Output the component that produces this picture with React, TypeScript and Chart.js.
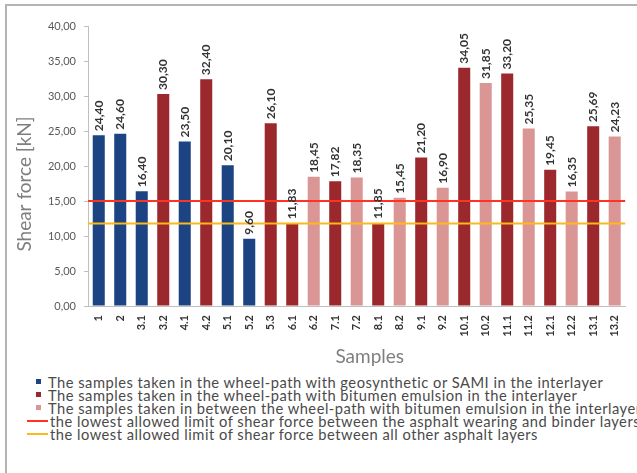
import React, { useEffect, useRef } from 'react';
import { Chart, registerables } from 'chart.js';

Chart.register(...registerables);

// ---- data ----
const categories = ['1', '2', '3.1', '3.2', '4.1', '4.2', '5.1', '5.2', '5.3', '6.1', '6.2', '7.1', '7.2', '8.1', '8.2', '9.1', '9.2', '10.1', '10.2', '11.1', '11.2', '12.1', '12.2', '13.1', '13.2'];
const shearForce = [24.4, 24.6, 16.4, 30.3, 23.5, 32.4, 20.1, 9.6, 26.1, 11.83, 18.45, 17.82, 18.35, 11.85, 15.45, 21.2, 16.9, 34.05, 31.85, 33.2, 25.35, 19.45, 16.35, 25.69, 24.23];
const sampleGroup = [0, 0, 0, 1, 0, 1, 0, 0, 1, 1, 2, 1, 2, 1, 2, 1, 2, 1, 2, 1, 2, 1, 2, 1, 2];
const groupLabels = [
  'The samples taken in the wheel-path with geosynthetic or SAMI in the interlayer',
  'The samples taken in the wheel-path with bitumen emulsion in the interlayer',
  'The samples taken in between the wheel-path with bitumen emulsion in the interlayer',
];
const groupColors = ['#1C4482', '#9B282D', '#DA9694'];
const limitLabels = [
  'the lowest allowed limit of shear force between the asphalt wearing and binder layers',
  'the lowest allowed limit of shear force between all other asphalt layers',
];
const limitValues = [15, 11.8];
const limitColors = ['#FF3322', '#FFB81C'];
const yMin = 0;
const yMax = 40;
const yStep = 5;
const xTitle = 'Samples';
const yTitle = 'Shear force [kN]';

const FONT = 'Lato, "Open Sans", sans-serif';
const fmt = (v: number) => v.toFixed(2).replace('.', ',');

const valueLabels = {
  id: 'valueLabels',
  afterDatasetsDraw(chart: any) {
    const ctx = chart.ctx;
    ctx.save();
    ctx.font = `bold 12px ${FONT}`;
    ctx.fillStyle = '#333333';
    ctx.textAlign = 'left';
    ctx.textBaseline = 'middle';
    chart.data.datasets.forEach((ds: any, di: number) => {
      if (ds.type !== 'bar') return;
      const meta = chart.getDatasetMeta(di);
      meta.data.forEach((el: any, i: number) => {
        const v = ds.data[i];
        if (v === null || v === undefined) return;
        ctx.save();
        ctx.translate(el.x, el.y - 4);
        ctx.rotate(-Math.PI / 2);
        ctx.fillText(fmt(v), 0, 0);
        ctx.restore();
      });
    });
    ctx.restore();
  },
};

const axisTitles = {
  id: 'axisTitles',
  afterDraw(chart: any) {
    const { ctx, chartArea } = chart;
    ctx.save();
    ctx.font = `19px ${FONT}`;
    ctx.fillStyle = '#7F7F7F';
    ctx.textAlign = 'center';
    ctx.textBaseline = 'middle';
    const cx = (chartArea.left + chartArea.right) / 2;
    const cy = (chartArea.top + chartArea.bottom) / 2;
    ctx.fillText(xTitle, cx + 13, chartArea.bottom + 51);
    ctx.translate(25, cy + 18);
    ctx.rotate(-Math.PI / 2);
    ctx.fillText(yTitle, 0, 0);
    ctx.restore();
  },
};

export default function App() {
  const ref = useRef<HTMLCanvasElement | null>(null);

  useEffect(() => {
    if (!ref.current) return;
    const barSets = groupLabels.map((label, g) => ({
      type: 'bar' as const,
      label,
      data: shearForce.map((v, i) => (sampleGroup[i] === g ? v : null)),
      backgroundColor: groupColors[g],
      grouped: false,
      barPercentage: 0.56,
      categoryPercentage: 1,
      xAxisID: 'x',
      order: 2,
    }));
    const lineSets = limitLabels.map((label, k) => ({
      type: 'line' as const,
      label,
      data: [
        { x: 0, y: limitValues[k] },
        { x: 1, y: limitValues[k] },
      ],
      borderColor: limitColors[k],
      backgroundColor: limitColors[k],
      borderWidth: 2,
      pointRadius: 0,
      xAxisID: 'x2',
      order: 1,
    }));
    const chart = new Chart(ref.current, {
      type: 'bar',
      data: { labels: categories, datasets: [...barSets, ...lineSets] as any },
      options: {
        responsive: false,
        animation: false,
        devicePixelRatio: 1,
        layout: { padding: { top: 26, right: 5, left: 0, bottom: 0 } },
        plugins: { legend: { display: false }, tooltip: { enabled: false } },
        scales: {
          x: {
            type: 'category',
            offset: true,
            grid: { display: false, drawTicks: false },
            border: { color: '#BFBFBF', width: 1 },
            ticks: {
              autoSkip: false,
              minRotation: 90,
              maxRotation: 90,
              padding: 9,
              color: '#333333',
              font: { family: FONT, size: 11, weight: 'bold' },
            },
            afterFit: (s: any) => {
              s.height = 64;
            },
          },
          x2: { type: 'linear', min: 0, max: 1, display: false, offset: false },
          y: {
            min: yMin,
            max: yMax,
            ticks: {
              stepSize: yStep,
              padding: 8,
              color: '#595959',
              font: { family: FONT, size: 11 },
              callback: (v: any) => fmt(Number(v)),
            },
            grid: { drawOnChartArea: false, drawTicks: true, tickLength: 4, color: '#BFBFBF' },
            border: { color: '#BFBFBF', width: 1 },
            afterFit: (s: any) => {
              s.width = 88;
            },
          },
        },
      } as any,
      plugins: [valueLabels, axisTitles],
    });
    return () => chart.destroy();
  }, []);

  const rowH = 13.1;
  const legendTop = 375;
  const items = [
    ...groupLabels.map((t, g) => ({ t, c: groupColors[g], kind: 'box' })),
    ...limitLabels.map((t, k) => ({ t, c: limitColors[k], kind: 'line' })),
  ];

  return (
    <div style={{ position: 'absolute', left: 0, top: 0, width: 637, height: 473, overflow: 'hidden', background: '#fff', fontFamily: FONT }}>
      <div style={{ position: 'absolute', left: 5, top: 4, width: 700, height: 600, borderTop: '2px solid #B4B4B4', borderLeft: '2px solid #B4B4B4' }} />
      <canvas ref={ref} width={637} height={370} style={{ position: 'absolute', left: 0, top: 0, width: 637, height: 370 }} />
      {items.map((it, i) => {
        const cy = legendTop + rowH * i + 6.5;
        return (
          <React.Fragment key={i}>
            {it.kind === 'box' ? (
              <div style={{ position: 'absolute', left: 36, top: cy - 2.5, width: 5, height: 5, background: it.c }} />
            ) : (
              <div style={{ position: 'absolute', left: 27, top: cy - 1, width: 21, height: 2, background: it.c }} />
            )}
            <div
              style={{
                position: 'absolute',
                left: it.kind === 'box' ? 48 : 50,
                top: cy - 9,
                height: 18,
                lineHeight: '18px',
                fontSize: 14.7,
                letterSpacing: 0.5,
                color: '#4A4A4A',
                whiteSpace: 'nowrap',
              }}
            >
              {it.t}
            </div>
          </React.Fragment>
        );
      })}
    </div>
  );
}
